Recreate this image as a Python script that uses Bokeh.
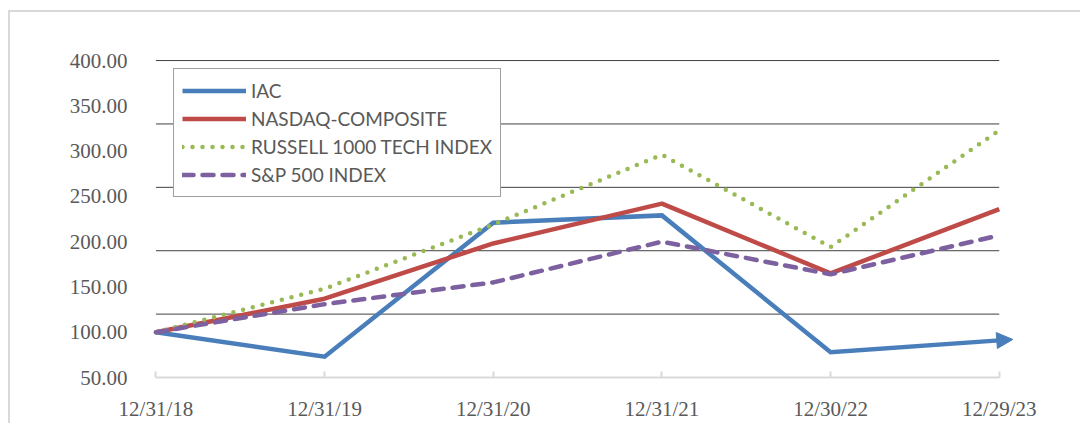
from bokeh.plotting import figure
from bokeh.models import (Range1d, FixedTicker, NumeralTickFormatter, Legend,
                          LegendItem, Arrow, NormalHead)
from bokeh.embed import file_html
from bokeh.resources import INLINE

# ---- data ----
dates = ["12/31/18", "12/31/19", "12/31/20", "12/31/21", "12/30/22", "12/29/23"]
iac = [100, 73, 221, 229, 78, 91]
nasdaq = [100, 137, 198, 242, 165, 236]
russell = [100, 148, 219, 296, 194, 323]
sp500 = [100, 131, 155, 200, 164, 207]
series_names = ["IAC", "NASDAQ-COMPOSITE", "RUSSELL 1000 TECH INDEX", "S&P 500 INDEX"]
y_ticks = [50, 100, 150, 200, 250, 300, 350, 400]
grid_levels = [120, 190, 260, 330, 400]

x = list(range(len(dates)))

BLUE = "#4a7ebb"
RED = "#be4b48"
GREEN = "#98b954"
PURPLE = "#7d60a0"
TEXT = "#595959"
LW = 4.5

p = figure(width=1072, height=413,
           x_range=Range1d(-0.05, 5.12), y_range=Range1d(50, 410),
           output_backend="svg", toolbar_location=None,
           min_border_left=137, min_border_right=63,
           min_border_top=39, min_border_bottom=48)
p.styles = {"border-left": "2px solid #d9d9d9", "border-top": "2px solid #d9d9d9",
            "margin-top": "10px", "margin-left": "8px"}
p.outline_line_color = None
p.xgrid.visible = False
p.ygrid.visible = False
p.background_fill_color = "white"
p.border_fill_color = "white"

# horizontal grid lines spanning the category extent
p.segment(x0=[x[0]] * len(grid_levels), x1=[x[-1]] * len(grid_levels),
          y0=grid_levels, y1=grid_levels, line_color="#404040", line_width=1,
          level="underlay")

r_iac = p.line(x, iac, line_color=BLUE, line_width=LW, line_join="miter")
r_nas = p.line(x, nasdaq, line_color=RED, line_width=LW, line_join="round")
r_rus = p.line(x, russell, line_color=GREEN, line_width=LW, line_dash="0 10",
               line_cap="round", line_join="round")
r_sp = p.line(x, sp500, line_color=PURPLE, line_width=LW, line_dash="11 9",
              line_cap="round", line_join="round")

# arrowhead on the IAC series
slope = iac[-1] - iac[-2]
ext = 0.08
p.add_layout(Arrow(end=NormalHead(size=16, fill_color=BLUE, line_color=BLUE),
                   x_start=x[-1], y_start=iac[-1],
                   x_end=x[-1] + ext, y_end=iac[-1] + slope * ext,
                   line_color=BLUE, line_width=LW))

# axes
xa = p.xaxis[0]
xa.ticker = FixedTicker(ticks=x)
xa.major_label_overrides = {i: d for i, d in enumerate(dates)}
xa.bounds = (x[0], x[-1])
xa.axis_line_color = "#d9d9d9"
xa.axis_line_width = 2
xa.major_tick_in = 6
xa.major_tick_out = 0
xa.major_tick_line_color = "#d9d9d9"
xa.major_tick_line_width = 2
xa.minor_tick_line_color = None
xa.major_label_text_font = "Liberation Serif"
xa.major_label_text_font_size = "21px"
xa.major_label_text_color = TEXT
xa.major_label_standoff = 19

ya = p.yaxis[0]
ya.ticker = FixedTicker(ticks=y_ticks)
ya.formatter = NumeralTickFormatter(format="0.00")
ya.axis_line_color = None
ya.major_tick_line_color = None
ya.minor_tick_line_color = None
ya.major_tick_in = 0
ya.major_tick_out = 0
ya.major_label_text_font = "Liberation Serif"
ya.major_label_text_font_size = "21px"
ya.major_label_text_color = TEXT
ya.major_label_standoff = 20

legend = Legend(items=[LegendItem(label=series_names[0], renderers=[r_iac]),
                       LegendItem(label=series_names[1], renderers=[r_nas]),
                       LegendItem(label=series_names[2], renderers=[r_rus]),
                       LegendItem(label=series_names[3], renderers=[r_sp])],
                location=(26, 180),
                label_text_font="Lato", label_text_font_size="19px",
                label_text_color=TEXT,
                border_line_color="#404040", border_line_width=1,
                background_fill_color="white", background_fill_alpha=1,
                glyph_width=64, glyph_height=27, spacing=1, padding=8,
                margin=0, label_standoff=5, label_height=27)
p.add_layout(legend)

open("out.html", "w").write(file_html(p, INLINE))
